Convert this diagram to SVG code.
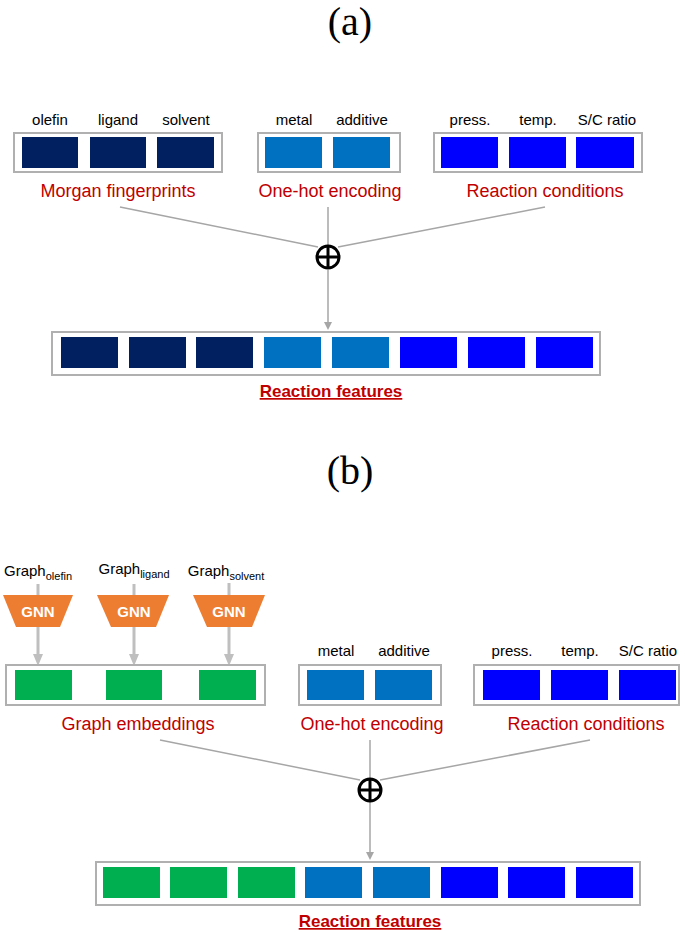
<svg xmlns="http://www.w3.org/2000/svg" width="685" height="932" viewBox="0 0 685 932">
<style>
.f{fill:#fff;stroke:#b0b0b0;stroke-width:2}
.n{fill:#002060}.m{fill:#0070c0}.b{fill:#0000ff}.g{fill:#00b050}
.t{font-family:"Liberation Sans",Arial,sans-serif;font-size:15px;fill:#000;text-anchor:middle}
.r{font-family:"Liberation Sans",Arial,sans-serif;font-size:18px;fill:#c00000;text-anchor:middle}
.rb{font-family:"Liberation Sans",Arial,sans-serif;font-size:17px;font-weight:bold;fill:#c00000;text-anchor:middle;text-decoration:underline}
.p{font-family:"Liberation Serif","Times New Roman",serif;font-size:40px;fill:#000;text-anchor:middle}
.l{stroke:#a6a6a6;stroke-width:1.5;fill:none}
.ga{stroke:#bfbfbf;stroke-width:3;fill:none}
.gnn{fill:#ed7d31}
.gt{font-family:"Liberation Sans",Arial,sans-serif;font-size:15px;font-weight:bold;fill:#fff;text-anchor:middle}
</style>
<defs>
<marker id="ah" markerWidth="8" markerHeight="8" refX="4" refY="4" orient="auto" markerUnits="userSpaceOnUse"><path d="M0,0 L8,4 L0,8 z" fill="#a6a6a6"/></marker>
<marker id="ah2" markerWidth="12" markerHeight="12" refX="6" refY="6" orient="auto" markerUnits="userSpaceOnUse"><path d="M0,1 L12,6 L0,11 z" fill="#bfbfbf"/></marker>
</defs>
<text class="p" x="350" y="35">(a)</text>
<g id="a-morgan">
<text class="t" x="50" y="125">olefin</text><text class="t" x="118" y="125">ligand</text><text class="t" x="186" y="125">solvent</text>
<rect class="f" x="14" y="133" width="208" height="39"/>
<rect class="n" x="22" y="137" width="56" height="31"/><rect class="n" x="90" y="137" width="56" height="31"/><rect class="n" x="157" y="137" width="57" height="31"/>
<text class="r" x="118" y="197">Morgan fingerprints</text>
</g>
<g id="a-onehot">
<text class="t" x="294" y="125">metal</text><text class="t" x="362" y="125">additive</text>
<rect class="f" x="258" y="133" width="142" height="39"/>
<rect class="m" x="265" y="137" width="57" height="31"/><rect class="m" x="333" y="137" width="57" height="31"/>
<text class="r" x="330" y="197">One-hot encoding</text>
</g>
<g id="a-cond">
<text class="t" x="470" y="125">press.</text><text class="t" x="538" y="125">temp.</text><text class="t" x="607" y="125">S/C ratio</text>
<rect class="f" x="434" y="133" width="208" height="39"/>
<rect class="b" x="441" y="137" width="57" height="31"/><rect class="b" x="509" y="137" width="57" height="31"/><rect class="b" x="576" y="137" width="58" height="31"/>
<text class="r" x="545" y="197">Reaction conditions</text>
</g>
<g id="a-connectors">
<line class="l" x1="120" y1="207" x2="318" y2="247"/>
<line class="l" x1="328" y1="207" x2="328" y2="245"/>
<line class="l" x1="545" y1="207" x2="338" y2="247"/>
<line class="l" x1="328" y1="270" x2="328" y2="326" marker-end="url(#ah)"/>
</g>
<g id="a-oplus">
<circle cx="328" cy="257" r="11" fill="none" stroke="#000" stroke-width="3"/>
<line x1="317" y1="257" x2="339" y2="257" stroke="#000" stroke-width="3"/><line x1="328" y1="246" x2="328" y2="268" stroke="#000" stroke-width="3"/>
</g>
<g id="a-features">
<rect class="f" x="52" y="332" width="548" height="43"/>
<rect class="n" x="61" y="337" width="57" height="31"/><rect class="n" x="129" y="337" width="57" height="31"/><rect class="n" x="196" y="337" width="57" height="31"/>
<rect class="m" x="264" y="337" width="57" height="31"/><rect class="m" x="332" y="337" width="57" height="31"/>
<rect class="b" x="400" y="337" width="57" height="31"/><rect class="b" x="468" y="337" width="57" height="31"/><rect class="b" x="536" y="337" width="57" height="31"/>
<text class="rb" x="331" y="397">Reaction features</text>
</g>
<text class="p" x="350" y="484">(b)</text>
<g id="b-gnn">
<text class="t" x="38" y="576">Graph<tspan font-size="11" dy="4">olefin</tspan></text>
<text class="t" x="134" y="574">Graph<tspan font-size="11" dy="4">ligand</tspan></text>
<text class="t" x="226" y="576">Graph<tspan font-size="11" dy="4">solvent</tspan></text>
<line class="ga" x1="38" y1="584" x2="38" y2="660" marker-end="url(#ah2)"/>
<line class="ga" x1="134" y1="584" x2="134" y2="660" marker-end="url(#ah2)"/>
<line class="ga" x1="229" y1="583" x2="229" y2="660" marker-end="url(#ah2)"/>
<polygon class="gnn" points="3,595 73,595 60,627 16,627"/><text class="gt" x="38" y="617">GNN</text>
<polygon class="gnn" points="97,595 169,595 156,627 111,627"/><text class="gt" x="134" y="617">GNN</text>
<polygon class="gnn" points="193,595 265,595 252,627 207,627"/><text class="gt" x="229" y="617">GNN</text>
</g>
<g id="b-graph">
<rect class="f" x="6" y="665" width="259" height="40"/>
<rect class="g" x="15" y="670" width="57" height="30"/><rect class="g" x="106" y="670" width="56" height="30"/><rect class="g" x="199" y="670" width="57" height="30"/>
<text class="r" x="138" y="730">Graph embeddings</text>
</g>
<g id="b-onehot">
<text class="t" x="336" y="656">metal</text><text class="t" x="404" y="656">additive</text>
<rect class="f" x="299" y="665" width="142" height="40"/>
<rect class="m" x="307" y="670" width="57" height="30"/><rect class="m" x="375" y="670" width="57" height="30"/>
<text class="r" x="372" y="730">One-hot encoding</text>
</g>
<g id="b-cond">
<text class="t" x="512" y="656">press.</text><text class="t" x="580" y="656">temp.</text><text class="t" x="648" y="656">S/C ratio</text>
<rect class="f" x="474" y="665" width="205" height="40"/>
<rect class="b" x="483" y="670" width="57" height="30"/><rect class="b" x="551" y="670" width="57" height="30"/><rect class="b" x="619" y="670" width="57" height="30"/>
<text class="r" x="586" y="730">Reaction conditions</text>
</g>
<g id="b-connectors">
<line class="l" x1="160" y1="740" x2="360" y2="780"/>
<line class="l" x1="370" y1="740" x2="370" y2="778"/>
<line class="l" x1="590" y1="740" x2="380" y2="780"/>
<line class="l" x1="370" y1="802" x2="370" y2="856" marker-end="url(#ah)"/>
</g>
<g id="b-oplus">
<circle cx="370" cy="790" r="11" fill="none" stroke="#000" stroke-width="3"/>
<line x1="359" y1="790" x2="381" y2="790" stroke="#000" stroke-width="3"/><line x1="370" y1="779" x2="370" y2="801" stroke="#000" stroke-width="3"/>
</g>
<g id="b-features">
<rect class="f" x="96" y="862" width="544" height="43"/>
<rect class="g" x="103" y="867" width="57" height="31"/><rect class="g" x="170" y="867" width="57" height="31"/><rect class="g" x="238" y="867" width="57" height="31"/>
<rect class="m" x="305" y="867" width="57" height="31"/><rect class="m" x="373" y="867" width="57" height="31"/>
<rect class="b" x="441" y="867" width="57" height="31"/><rect class="b" x="508" y="867" width="57" height="31"/><rect class="b" x="576" y="867" width="57" height="31"/>
<text class="rb" x="370" y="927">Reaction features</text>
</g>
</svg>
